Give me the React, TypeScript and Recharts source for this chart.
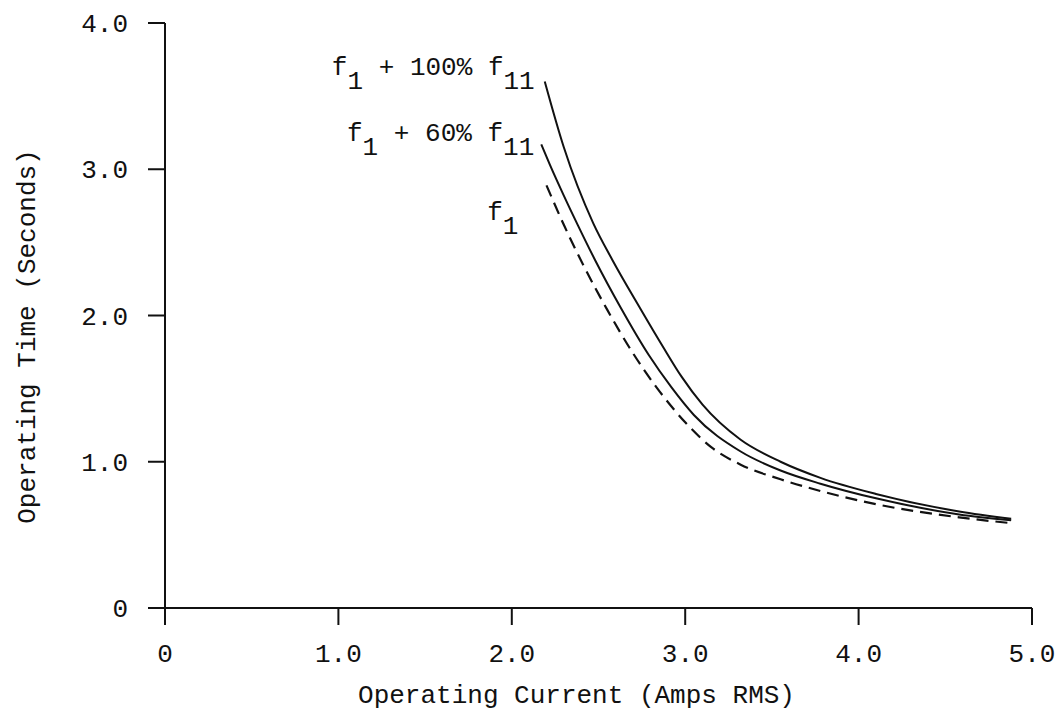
import * as React from 'react';
import { Line, LineChart, ReferenceDot, XAxis, YAxis } from 'recharts';

// readings: operating current (A rms) vs operating time (s)
const current100 = [2.19, 2.3, 2.47, 2.58, 2.74, 2.87, 2.98, 3.1, 3.32, 3.55, 3.78, 4.1, 4.58, 4.88];
const time100 = [3.6, 3.15, 2.63, 2.38, 2.05, 1.79, 1.58, 1.39, 1.15, 1.0, 0.89, 0.78, 0.66, 0.61];

const current60 = [2.17, 2.22, 2.3, 2.38, 2.48, 2.63, 2.79, 2.92, 3.05, 3.32, 3.55, 3.78, 4.1, 4.58, 4.88];
const time60 = [3.17, 3.03, 2.82, 2.62, 2.38, 2.05, 1.73, 1.51, 1.32, 1.07, 0.94, 0.85, 0.75, 0.64, 0.6];

const currentF1 = [2.2, 2.3, 2.41, 2.55, 2.7, 2.84, 3.0, 3.15, 3.32, 3.55, 3.78, 4.1, 4.58, 4.88];
const timeF1 = [2.89, 2.62, 2.35, 2.04, 1.74, 1.5, 1.27, 1.1, 0.98, 0.88, 0.8, 0.71, 0.62, 0.58];

const xTicks = [0, 1, 2, 3, 4, 5];
const yTicks = [0, 1, 2, 3, 4];

const toPoints = (xs: number[], ys: number[]) => xs.map((i, k) => ({ i, t: ys[k] }));

const FONT = '"Liberation Mono", "DejaVu Sans Mono", monospace';
const INK = '#111';

const fmt = (v: number) => (v === 0 ? '0' : v.toFixed(1));

const axisProps = {
  stroke: INK,
  strokeWidth: 2,
  tickSize: 17,
  tick: { fontSize: 26, fontFamily: FONT, fill: INK },
} as const;

/* curve label, placed relative to the start of its curve */
function CurveLabel({ viewBox, parts, dx, dy }: any) {
  if (!viewBox) return null;
  const x = viewBox.x + viewBox.width / 2 + dx;
  const y = viewBox.y + viewBox.height / 2 + dy;
  return (
    <text x={x} y={y} textAnchor="end" fontFamily={FONT} fontSize={26} fill={INK}>
      {parts.map((p: { s: string; sub?: boolean }, idx: number) => {
        const prevSub = idx > 0 && parts[idx - 1].sub;
        const shift = p.sub ? (prevSub ? 0 : 14) : prevSub ? -14 : 0;
        return (
          <tspan key={idx} dy={shift}>
            {p.s}
          </tspan>
        );
      })}
    </text>
  );
}

function YTitle({ viewBox }: any) {
  const x = viewBox.x + 28;
  const y = viewBox.y + viewBox.height / 2 + 21;
  return (
    <text
      x={x}
      y={y}
      transform={`rotate(-90 ${x} ${y})`}
      textAnchor="middle"
      dominantBaseline="central"
      fontFamily={FONT}
      fontSize={26}
      fill={INK}
    >
      Operating Time (Seconds)
    </text>
  );
}

function XTitle({ viewBox }: any) {
  const x = viewBox.x + viewBox.width / 2 - 22;
  const y = viewBox.y + viewBox.height - 16;
  return (
    <text x={x} y={y} textAnchor="middle" fontFamily={FONT} fontSize={26} fill={INK}>
      Operating Current (Amps RMS)
    </text>
  );
}

export default function App() {
  return (
    <>
      <style>{'body{margin:0;background:#fff}'}</style>
      <LineChart width={1057} height={719} margin={{ top: 23, right: 25, bottom: 0, left: 0 }}>
        <XAxis
          type="number"
          dataKey="i"
          domain={[0, 5]}
          ticks={xTicks}
          tickFormatter={fmt}
          height={111}
          tickMargin={19}
          {...axisProps}
          label={<XTitle />}
        />
        <YAxis
          type="number"
          dataKey="t"
          domain={[0, 4]}
          ticks={yTicks}
          tickFormatter={fmt}
          width={165}
          tickMargin={20}
          {...axisProps}
          label={<YTitle />}
        />
        <Line
          data={toPoints(current100, time100)}
          dataKey="t"
          type="monotone"
          stroke={INK}
          strokeWidth={2}
          dot={false}
          isAnimationActive={false}
        />
        <Line
          data={toPoints(current60, time60)}
          dataKey="t"
          type="monotone"
          stroke={INK}
          strokeWidth={2}
          dot={false}
          isAnimationActive={false}
        />
        <Line
          data={toPoints(currentF1, timeF1)}
          dataKey="t"
          type="monotone"
          stroke={INK}
          strokeWidth={2.2}
          strokeDasharray="12 7"
          dot={false}
          isAnimationActive={false}
        />
        <ReferenceDot
          x={current100[0]}
          y={time100[0]}
          r={0}
          stroke="none"
          label={
            <CurveLabel
              dx={-10}
              dy={-7}
              parts={[{ s: 'f' }, { s: '1', sub: true }, { s: ' + 100% f' }, { s: '11', sub: true }]}
            />
          }
        />
        <ReferenceDot
          x={current60[0]}
          y={time60[0]}
          r={0}
          stroke="none"
          label={
            <CurveLabel
              dx={-7}
              dy={-3}
              parts={[{ s: 'f' }, { s: '1', sub: true }, { s: ' + 60% f' }, { s: '11', sub: true }]}
            />
          }
        />
        <ReferenceDot
          x={currentF1[0]}
          y={timeF1[0]}
          r={0}
          stroke="none"
          label={<CurveLabel dx={-28} dy={35} parts={[{ s: 'f' }, { s: '1', sub: true }]} />}
        />
      </LineChart>
    </>
  );
}
